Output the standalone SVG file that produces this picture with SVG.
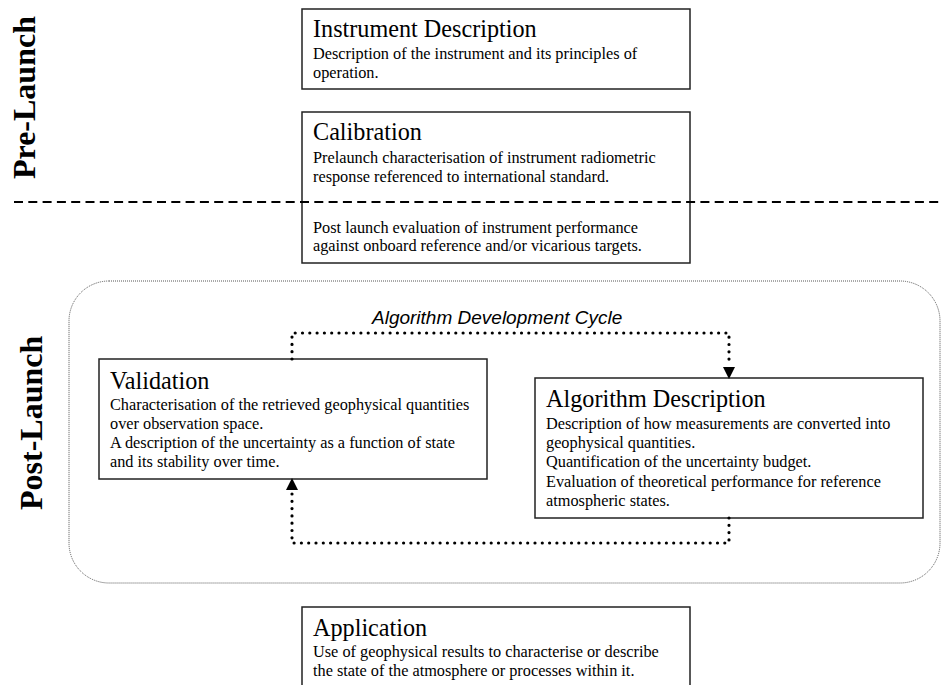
<svg xmlns="http://www.w3.org/2000/svg" width="942" height="685" viewBox="0 0 942 685">
<defs>
<style>
.box{fill:#fff;stroke:#222;stroke-width:1.5}
.open{fill:none;stroke:#222;stroke-width:1.5}
.t{font-family:"Liberation Serif","Times New Roman",serif;font-size:24.2px;fill:#000}
.b{font-family:"Liberation Serif","Times New Roman",serif;font-size:16.3px;fill:#000}
.phase{font-family:"Liberation Serif","Times New Roman",serif;font-size:32px;font-weight:bold;fill:#000}
.lbl{font-family:"Liberation Sans",Arial,sans-serif;font-size:19px;font-style:italic;fill:#000}
.dot{fill:none;stroke:#000;stroke-width:3.2;stroke-linecap:round;stroke-dasharray:0 7.3}
</style>
<marker id="arr" markerWidth="12" markerHeight="12" refX="11" refY="6" orient="auto" markerUnits="userSpaceOnUse">
<path d="M0,0 L12,6 L0,12 Z" fill="#000"/>
</marker>
</defs>
<rect width="942" height="685" fill="#fff"/>
<g id="phases">
<text class="phase" transform="translate(35,179) rotate(-90)">Pre-Launch</text>
<text class="phase" transform="translate(42,510) rotate(-90)">Post-Launch</text>
<rect x="69" y="281" width="871" height="302" rx="40" ry="40" fill="none" stroke="#555" stroke-width="1" stroke-dasharray="1 1"/>
</g>
<g id="instrument">
<rect class="box" x="302" y="9" width="388" height="80"/>
<text class="t" x="313" y="37">Instrument Description</text>
<text class="b" x="313" y="59">Description of the instrument and its principles of</text>
<text class="b" x="313" y="78">operation.</text>
</g>
<g id="calibration">
<rect class="open" x="302" y="112" width="388" height="151"/>
<text class="t" x="313" y="140">Calibration</text>
<text class="b" x="313" y="163">Prelaunch characterisation of instrument radiometric</text>
<text class="b" x="313" y="182">response referenced to international standard.</text>
<text class="b" x="313" y="233">Post launch evaluation of instrument performance</text>
<text class="b" x="313" y="251">against onboard reference and/or vicarious targets.</text>
</g>
<g id="divider">
<line x1="14" y1="202" x2="942" y2="202" stroke="#000" stroke-width="2" stroke-dasharray="9 5.3"/>
</g>
<g id="validation">
<rect class="box" x="99" y="359" width="388" height="120"/>
<text class="t" x="110" y="389">Validation</text>
<text class="b" x="110" y="410">Characterisation of the retrieved geophysical quantities</text>
<text class="b" x="110" y="429">over observation space.</text>
<text class="b" x="110" y="448">A description of the uncertainty as a function of state</text>
<text class="b" x="110" y="467">and its stability over time.</text>
</g>
<g id="algorithm">
<rect class="box" x="535" y="378" width="388" height="140"/>
<text class="t" x="546" y="407">Algorithm Description</text>
<text class="b" x="546" y="429">Description of how measurements are converted into</text>
<text class="b" x="546" y="448">geophysical quantities.</text>
<text class="b" x="546" y="467">Quantification of the uncertainty budget.</text>
<text class="b" x="546" y="487">Evaluation of theoretical performance for reference</text>
<text class="b" x="546" y="506">atmospheric states.</text>
</g>
<g id="application">
<rect class="box" x="302" y="607" width="388" height="100"/>
<text class="t" x="313" y="636">Application</text>
<text class="b" x="313" y="657">Use of geophysical results to characterise or describe</text>
<text class="b" x="313" y="676">the state of the atmosphere or processes within it.</text>
</g>
<g id="connectors">
<path class="dot" d="M292,359 L292,333 L729,333 L729,366"/>
<line x1="729" y1="364" x2="729" y2="378" stroke="none" marker-end="url(#arr)"/>
<path class="dot" d="M729,518 L729,543 L292,543 L292,491"/>
<line x1="292" y1="493" x2="292" y2="479" stroke="none" marker-end="url(#arr)"/>
<text class="lbl" x="372" y="324">Algorithm Development Cycle</text>
</g>
</svg>
